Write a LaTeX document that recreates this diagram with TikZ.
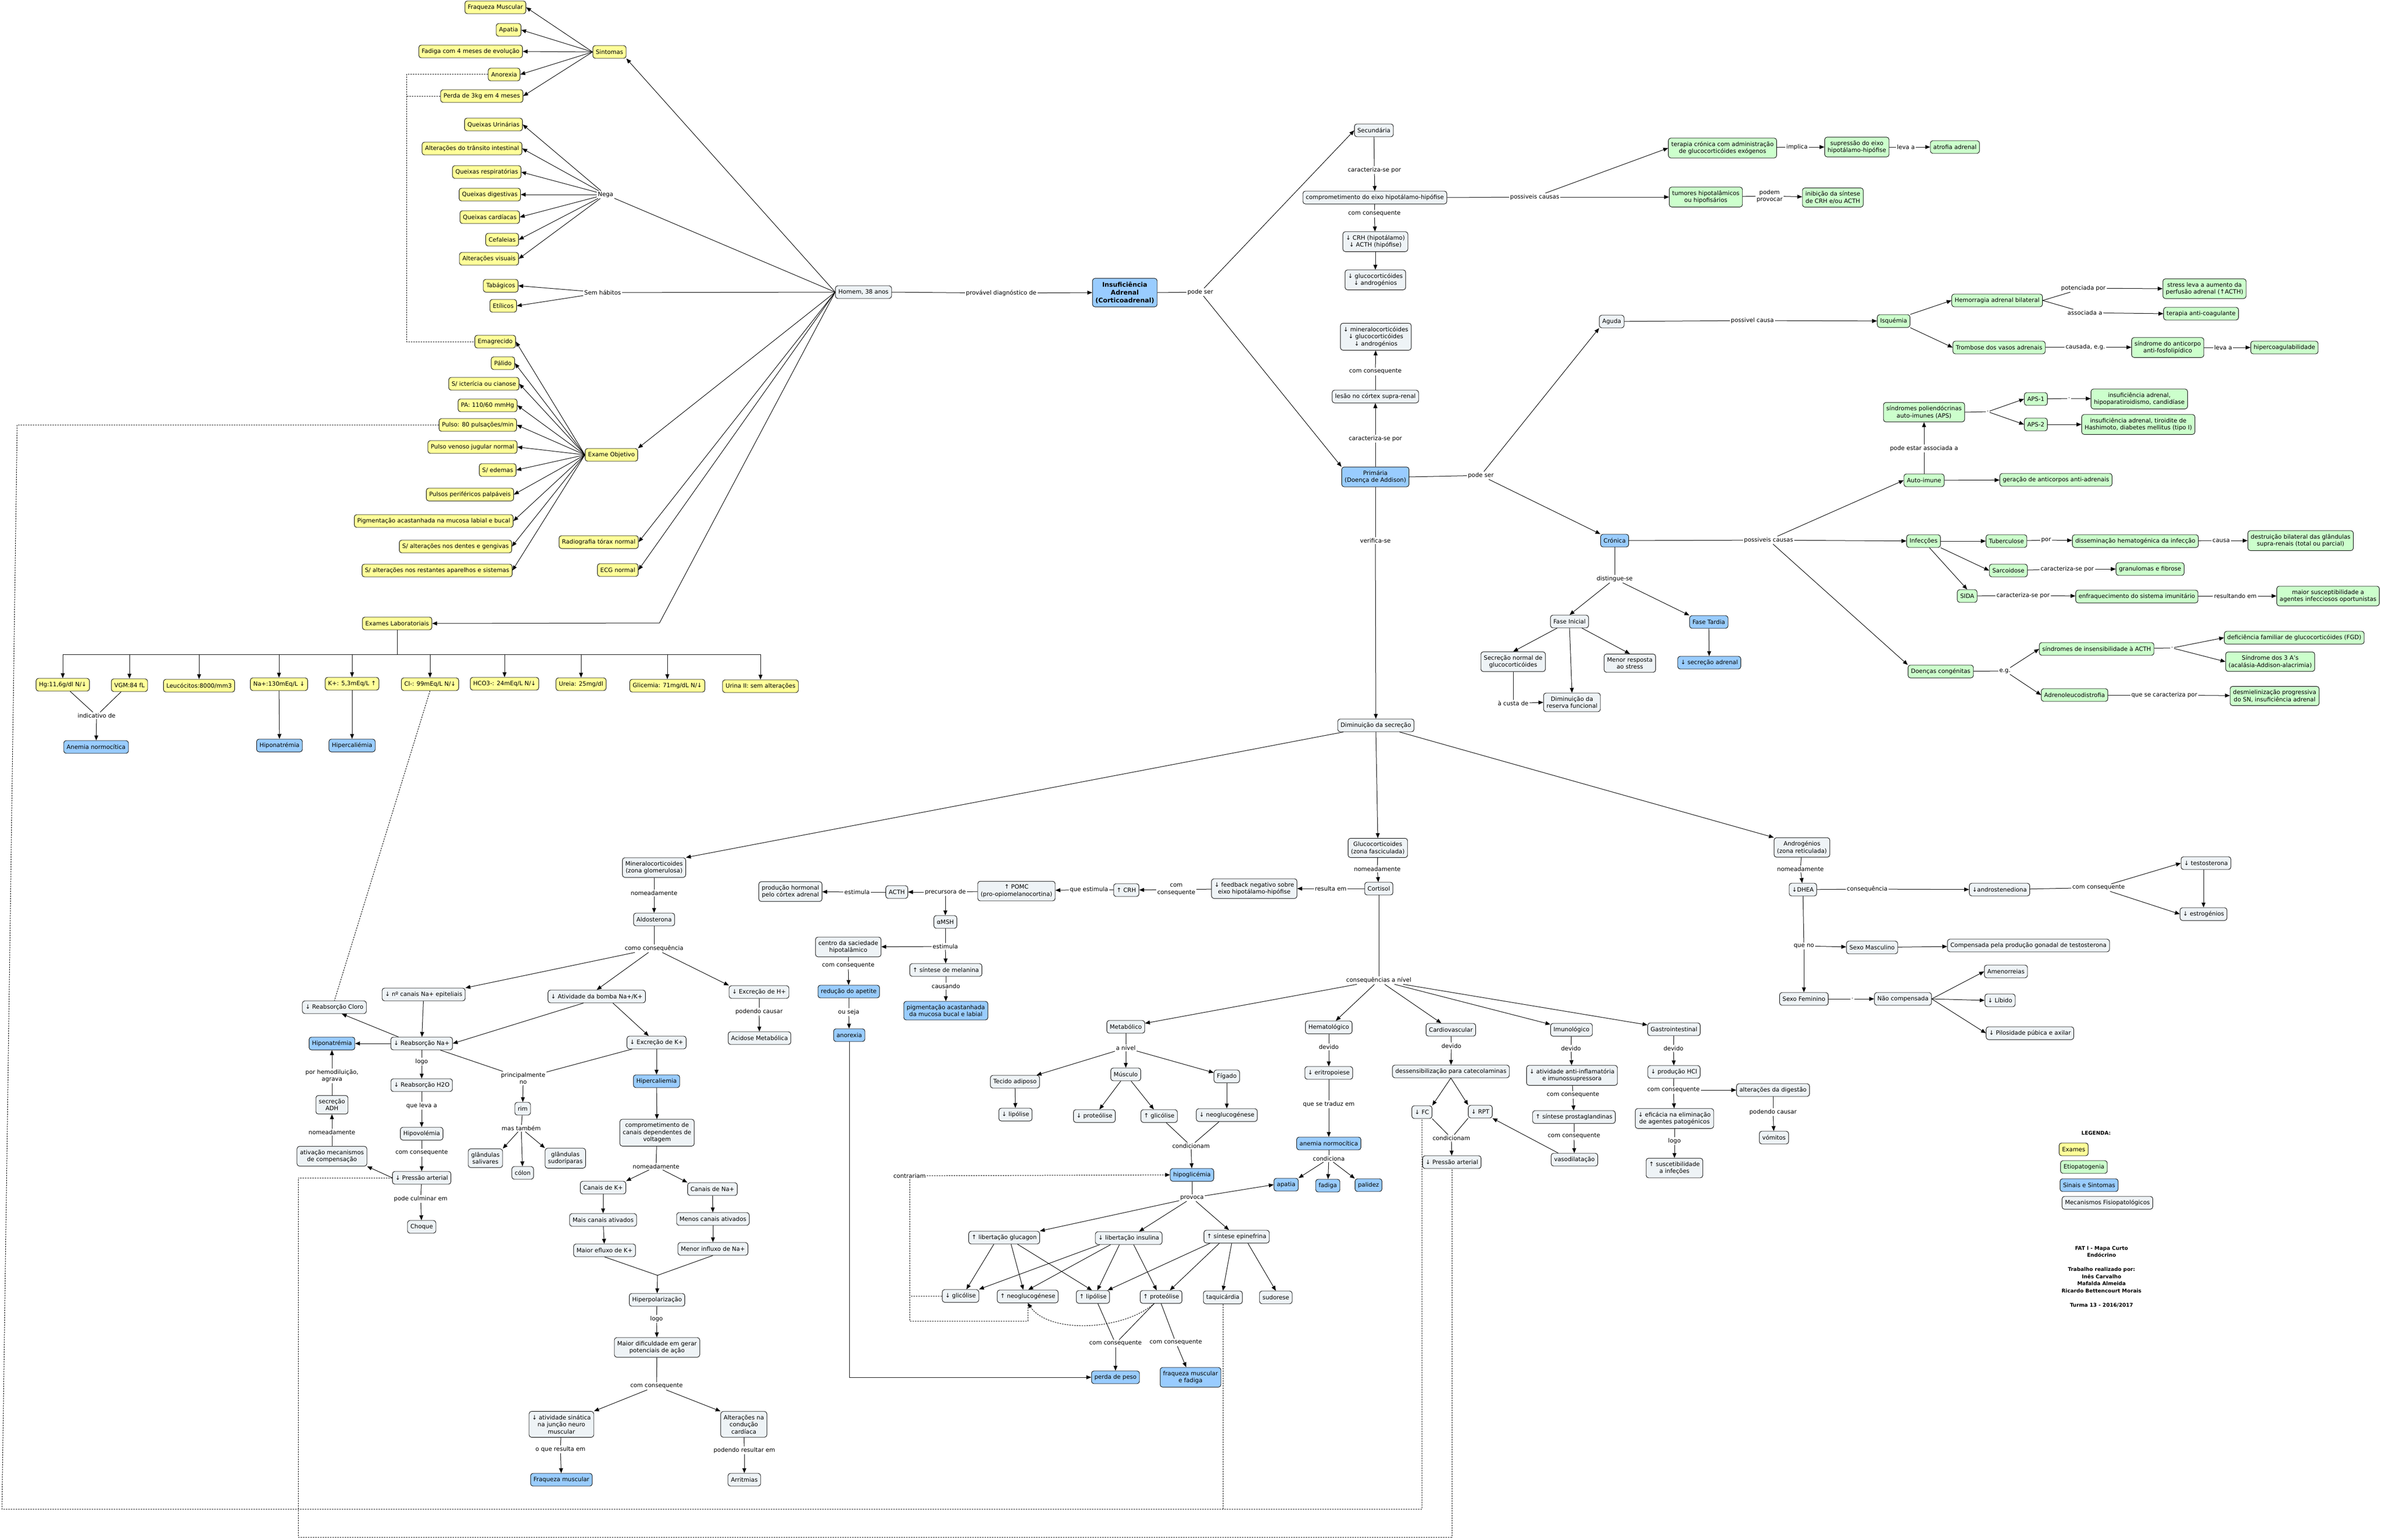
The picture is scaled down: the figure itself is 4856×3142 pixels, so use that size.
\documentclass[tikz,border=0pt]{standalone}
\usepackage{fontspec}
\setmainfont{DejaVu Sans}
\usetikzlibrary{arrows.meta}
\definecolor{cY}{HTML}{FFFF99}
\definecolor{cG}{HTML}{CCFFCC}
\definecolor{cB}{HTML}{99CCFF}
\definecolor{cM}{HTML}{EEF3F6}
\newcommand\myf{\fontsize{12}{14.5}\selectfont}
\newcommand\myb{\fontsize{10.5}{14.5}\selectfont\bfseries}
\newcommand\mys{\fontsize{9}{10}\selectfont}
\newcommand\myia{\fontsize{13}{16}\selectfont\bfseries}
\begin{document}
\begin{tikzpicture}[x=1pt,y=-1pt,
 bx/.style={draw=black, rounded corners=5pt, line width=0.9pt, inner xsep=6pt, inner ysep=7pt, minimum height=26pt, align=center, font=\myf},
 ex/.style={bx, fill=cY},
 gr/.style={bx, fill=cG},
 bl/.style={bx, fill=cB},
 mc/.style={bx, fill=cM},
 lb/.style={font=\myf, inner sep=2pt, align=center},
 ar/.style={-{Triangle[length=10pt,width=8pt]}, line width=1pt},
 ln/.style={line width=1pt},
 dsh/.style={dash pattern=on 3pt off 2pt, line width=1pt}]
\fill[white] (0,0) rectangle (4856,3142);
\useasboundingbox (0,0) rectangle (4856,3142);

% ---------- left: symptoms ----------
\node[ex,anchor=east] (fm) at (1073,15) {Fraqueza Muscular};
\node[ex,anchor=east] (apa) at (1063,61) {Apatia};
\node[ex,anchor=east] (fad) at (1066,105) {Fadiga com 4 meses de evolução};
\node[ex,anchor=east] (ano) at (1061,152) {Anorexia};
\node[ex,anchor=east] (per) at (1067,196) {Perda de 3kg em 4 meses};
\node[ex] (sin) at (1243,106) {Sintomas};
\node[ex,anchor=east] (qu) at (1066,254) {Queixas Urinárias};
\node[ex,anchor=east] (atr2) at (1065,303) {Alterações do trânsito intestinal};
\node[ex,anchor=east] (qr) at (1063,351) {Queixas respiratórias};
\node[ex,anchor=east] (qd) at (1062,397) {Queixas digestivas};
\node[ex,anchor=east] (qc) at (1060,443) {Queixas cardíacas};
\node[ex,anchor=east] (cef) at (1058,489) {Cefaleias};
\node[ex,anchor=east] (av) at (1058,528) {Alterações visuais};
\node[lb] (lnega) at (1235,397) {Nega};
\node[ex,anchor=east] (tab) at (1057,583) {Tabágicos};
\node[ex,anchor=east] (eti) at (1054,624) {Etílicos};
\node[lb] (lsem) at (1229,597) {Sem hábitos};
\node[ex,anchor=east] (ema) at (1052,697) {Emagrecido};
\node[ex,anchor=east] (pal) at (1050,741) {Pálido};
\node[ex,anchor=east] (ict) at (1059,783) {S/ icterícia ou cianose};
\node[ex,anchor=east] (pa) at (1055,827) {PA: 110/60 mmHg};
\node[ex,anchor=east] (pul) at (1054,867) {Pulso: 80 pulsações/min};
\node[ex,anchor=east] (pvj) at (1055,912) {Pulso venoso jugular normal};
\node[ex,anchor=east] (ede) at (1053,959) {S/ edemas};
\node[ex,anchor=east] (ppp) at (1048,1009) {Pulsos periféricos palpáveis};
\node[ex,anchor=east] (pig) at (1047,1063) {Pigmentação acastanhada na mucosa labial e bucal};
\node[ex,anchor=east] (den) at (1044,1115) {S/ alterações nos dentes e gengivas};
\node[ex,anchor=east] (res) at (1045,1164) {S/ alterações nos restantes aparelhos e sistemas};
\node[ex] (eo) at (1247,928) {Exame Objetivo};
\node[ex] (rx) at (1221,1106) {Radiografia tórax normal};
\node[ex] (ecg) at (1260,1163) {ECG normal};
\node[ex] (el) at (810,1272) {Exames Laboratoriais};
\node[mc] (hom) at (1761,596) {Homem, 38 anos};
\node[lb] (lprov) at (2042,598) {provável diagnóstico de};
\node[bl,font=\myia] (ia) at (2294,597) {Insuficiência\\Adrenal\\(Corticoadrenal)};
\node[lb] (lpode) at (2448,596) {pode ser};

% ---------- lab ----------
\node[ex] (hg) at (128,1397) {Hg:11,6g/dl N/↓};
\node[ex] (vgm) at (264,1398) {VGM:84 fL};
\node[ex] (leu) at (406,1399) {Leucócitos:8000/mm3};
\node[ex] (na) at (569,1396) {Na+:130mEq/L ↓};
\node[ex] (kk) at (718,1395) {K+: 5,3mEq/L ↑};
\node[ex] (cl) at (877,1396) {Cl-: 99mEq/L N/↓};
\node[ex] (hco) at (1029,1395) {HCO3-: 24mEq/L N/↓};
\node[ex] (ure) at (1185,1396) {Ureia: 25mg/dl};
\node[ex] (glic) at (1361,1399) {Glicemia: 71mg/dL N/↓};
\node[ex] (uri) at (1551,1400) {Urina II: sem alterações};
\node[lb] (lind) at (197,1460) {indicativo de};
\node[bl] (anem) at (196,1524) {Anemia normocítica};
\node[bl] (hipn) at (570,1521) {Hiponatrémia};
\node[bl] (hipk) at (718,1521) {Hipercaliémia};

% ---------- secondary ----------
\node[mc] (sec) at (2802,266) {Secundária};
\node[lb] (lcar1) at (2803,347) {caracteriza-se por};
\node[mc] (comp) at (2804,403) {comprometimento do eixo hipotálamo-hipófise};
\node[lb] (lcc1) at (2803,436) {com consequente};
\node[mc] (crh) at (2805,493) {↓ CRH (hipotálamo)\\↓ ACTH (hipófise)};
\node[mc] (glua) at (2805,571) {↓ glucocorticóides\\↓ androgénios};
\node[lb] (lpc1) at (3130,402) {possiveis causas};
\node[gr] (ter) at (3513,302) {terapia crónica com administração\\de glucocorticóides exógenos};
\node[lb] (limp) at (3665,300) {implica};
\node[gr] (sup) at (3787,300) {supressão do eixo\\hipotálamo-hipófise};
\node[lb] (lleva1) at (3887,300) {leva a};
\node[gr] (atf) at (3987,300) {atrofia adrenal};
\node[gr] (tum) at (3479,402) {tumores hipotalâmicos\\ou hipofisários};
\node[lb] (lpodem) at (3609,400) {podem\\provocar};
\node[gr] (ini) at (3738,403) {inibição da síntese\\de CRH e/ou ACTH};

% ---------- primary ----------
\node[mc] (min3) at (2806,687) {↓ mineralocorticóides\\↓ glucocorticóides\\↓ androgénios};
\node[lb] (lcc2) at (2805,758) {com consequente};
\node[mc] (les) at (2805,809) {lesão no córtex supra-renal};
\node[lb] (lcar2) at (2805,895) {caracteriza-se por};
\node[bl] (pri) at (2805,973) {Primária\\(Doença de Addison)};
\node[lb] (lpode2) at (3020,970) {pode ser};
\node[mc] (agu) at (3287,656) {Aguda};
\node[lb] (lpc2) at (3574,654) {possivel causa};
\node[gr] (isq) at (3862,655) {Isquémia};
\node[gr] (hem) at (4073,613) {Hemorragia adrenal bilateral};
\node[lb] (lpot) at (4249,588) {potenciada por};
\node[gr] (str) at (4496,589) {stress leva a aumento da\\perfusão adrenal (↑ACTH)};
\node[lb] (lass) at (4252,638) {associada a};
\node[gr] (tac) at (4489,640) {terapia anti-coagulante};
\node[gr] (tro) at (4077,709) {Trombose dos vasos adrenais};
\node[lb] (lcaus) at (4253,708) {causada, e.g.};
\node[gr] (saf) at (4421,709) {síndrome do anticorpo\\anti-fosfolipídico};
\node[lb] (lleva2) at (4534,709) {leva a};
\node[gr] (hip) at (4659,709) {hipercoagulabilidade};

\node[gr] (aps) at (3924,841) {síndromes poliendócrinas\\auto-imunes (APS)};
\node[lb,font=\mys] (ld1) at (4054,840) {-};
\node[gr] (aps1) at (4152,814) {APS-1};
\node[gr] (aps2) at (4152,866) {APS-2};
\node[lb,font=\mys] (ld4) at (4220,813) {-};
\node[gr] (ins1) at (4363,814) {insuficiência adrenal,\\hipoparatiroidismo, candidíase};
\node[gr] (ins2) at (4361,866) {insuficiência adrenal, tiroidite de\\Hashimoto, diabetes mellitus (tipo I)};
\node[lb] (lpea) at (3924,915) {pode estar associada a};
\node[gr] (aut) at (3924,980) {Auto-imune};
\node[gr] (ger) at (4193,979) {geração de anticorpos anti-adrenais};

\node[bl] (cro) at (3293,1103) {Crónica};
\node[lb] (lpc3) at (3607,1102) {possiveis causas};
\node[gr] (inf) at (3923,1104) {Infecções};
\node[gr] (tub) at (4092,1104) {Tuberculose};
\node[lb] (lpor) at (4173,1102) {por};
\node[gr] (dis) at (4355,1104) {disseminação hematogénica da infecção};
\node[lb] (lcausa) at (4530,1103) {causa};
\node[gr] (des) at (4692,1103) {destruição bilateral das glândulas\\supra-renais (total ou parcial)};
\node[gr] (sar) at (4096,1164) {Sarcoidose};
\node[lb] (lcar3) at (4216,1161) {caracteriza-se por};
\node[gr] (gra) at (4385,1161) {granulomas e fibrose};
\node[gr] (sida) at (4012,1216) {SIDA};
\node[lb] (lcar4) at (4126,1215) {caracteriza-se por};
\node[gr] (enf) at (4358,1217) {enfraquecimento do sistema imunitário};
\node[lb] (lres) at (4559,1216) {resultando em};
\node[gr] (mai) at (4748,1216) {maior susceptibilidade a\\agentes infecciosos oportunistas};
\node[gr] (dc) at (3958,1370) {Doenças congénitas};
\node[lb] (leg) at (4089,1369) {e.g.};
\node[gr] (sia) at (4276,1324) {síndromes de insensibilidade à ACTH};
\node[lb,font=\mys] (ld2) at (4430,1322) {-};
\node[gr] (fgd) at (4679,1301) {deficiência familiar de glucocorticóides (FGD)};
\node[gr] (s3a) at (4630,1350) {Síndrome dos 3 A's\\(acalásia-Addison-alacrimia)};
\node[gr] (adr) at (4231,1418) {Adrenoleucodistrofia};
\node[lb] (lqsc) at (4414,1418) {que se caracteriza por};
\node[gr] (dsm) at (4639,1420) {desmielinização progressiva\\do SN, insuficiência adrenal};

\node[lb] (ldis) at (3293,1181) {distingue-se};
\node[mc] (fi) at (3201,1268) {Fase Inicial};
\node[bl] (ft) at (3485,1269) {Fase Tardia};
\node[mc] (snorm) at (3086,1350) {Secreção normal de\\glucocorticóides};
\node[mc] (mrs) at (3324,1353) {Menor resposta\\ao stress};
\node[bl] (dsa) at (3486,1352) {↓ secreção adrenal};
\node[lb] (lcusta) at (3086,1435) {à custa de};
\node[mc] (drf) at (3206,1433) {Diminuição da\\reserva funcional};

% ---------- secretion ----------
\node[lb] (lver) at (2805,1103) {verifica-se};
\node[mc] (dims) at (2806,1480) {Diminuição da secreção};
\node[mc] (glu) at (2810,1730) {Glucocorticoides\\(zona fasciculada)};
\node[lb] (lnom2) at (2809,1773) {nomeadamente};
\node[mc] (cor) at (2812,1813) {Cortisol};
\node[lb] (lresem) at (2714,1813) {resulta em};
\node[mc] (fb) at (2558,1813) {↓ feedback negativo sobre\\eixo hipotálamo-hipófise};
\node[lb] (lcc3) at (2399,1815) {com\\consequente};
\node[mc] (crh2) at (2297,1816) {↑ CRH};
\node[lb] (lqe) at (2221,1815) {que estimula};
\node[mc] (pomc) at (2073,1818) {↑ POMC\\(pro-opiomelanocortina)};
\node[lb] (lprec) at (1928,1820) {precursora de};
\node[mc] (acth) at (1829,1820) {ACTH};
\node[lb] (lest1) at (1748,1820) {estimula};
\node[mc] (prod) at (1612,1819) {produção hormonal\\pelo córtex adrenal};
\node[mc] (msh) at (1928,1881) {αMSH};
\node[lb] (lest2) at (1928,1931) {estimula};
\node[mc] (cent) at (1730,1932) {centro da saciedade\\hipotalâmico};
\node[lb] (lcc4) at (1730,1970) {com consequente};
\node[bl] (red) at (1731,2023) {redução do apetite};
\node[lb] (lous) at (1731,2065) {ou seja};
\node[bl] (anx) at (1732,2112) {anorexia};
\node[mc] (mel) at (1929,1979) {↑ síntese de melanina};
\node[lb] (lcaus2) at (1929,2012) {causando};
\node[bl] (pig2) at (1929,2062) {pigmentação acastanhada\\da mucosa bucal e labial};

% ---------- mineralocorticoids ----------
\node[mc] (mine) at (1334,1770) {Mineralocorticoides\\(zona glomerulosa)};
\node[lb] (lnom1) at (1334,1822) {nomeadamente};
\node[mc] (ald) at (1334,1876) {Aldosterona};
\node[lb] (lcomo) at (1334,1935) {como consequência};
\node[mc] (nca) at (864,2029) {↓ nº canais Na+ epiteliais};
\node[mc] (bom) at (1217,2033) {↓ Atividade da bomba Na+/K+};
\node[mc] (exh) at (1548,2024) {↓ Excreção de H+};
\node[lb] (lpod1) at (1548,2064) {podendo causar};
\node[mc] (aci) at (1549,2118) {Acidose Metabólica};
\node[mc] (exk) at (1339,2127) {↓ Excreção de K+};
\node[bl] (hk) at (1339,2206) {Hipercaliemia};
\node[mc] (ccv) at (1340,2311) {comprometimento de\\canais dependentes de\\voltagem};
\node[lb] (lnom3) at (1338,2380) {nomeadamente};
\node[mc] (ck) at (1230,2423) {Canais de K+};
\node[mc] (cna) at (1453,2426) {Canais de Na+};
\node[mc] (mca) at (1230,2489) {Mais canais ativados};
\node[mc] (mna) at (1454,2487) {Menos canais ativados};
\node[mc] (mek) at (1233,2551) {Maior efluxo de K+};
\node[mc] (mif) at (1454,2548) {Menor influxo de Na+};
\coordinate (jun) at (1341,2602);
\node[mc] (hpz) at (1340,2652) {Hiperpolarização};
\node[lb] (llogo1) at (1339,2691) {logo};
\node[mc] (mdg) at (1340,2749) {Maior dificuldade em gerar\\potenciais de ação};
\node[lb] (lcc5) at (1339,2828) {com consequente};
\node[mc] (asn) at (1145,2906) {↓ atividade sinática\\na junção neuro\\muscular};
\node[lb] (lqre) at (1143,2957) {o que resulta em};
\node[bl] (fmu) at (1145,3019) {Fraqueza muscular};
\node[mc] (acc) at (1517,2906) {Alterações na\\condução\\cardíaca};
\node[lb] (lpr) at (1518,2959) {podendo resultar em};
\node[mc] (arm) at (1518,3019) {Arritmias};

\node[mc] (rcl) at (682,2055) {↓ Reabsorção Cloro};
\node[bl] (hna) at (677,2129) {Hiponatrémia};
\node[mc] (rna) at (860,2129) {↓ Reabsorção Na+};
\node[lb] (llogo2) at (860,2166) {logo};
\node[mc] (rh2o) at (860,2214) {↓ Reabsorção H2O};
\node[lb] (lqla) at (860,2256) {que leva a};
\node[mc] (hvo) at (860,2313) {Hipovolémia};
\node[lb] (lcc6) at (860,2352) {com consequente};
\node[mc] (pa2) at (860,2403) {↓ Pressão arterial};
\node[lb] (lpce) at (858,2446) {pode culminar em};
\node[mc] (cho) at (860,2503) {Choque};
\node[mc] (atv) at (677,2359) {ativação mecanismos\\de compensação};
\node[lb] (lnom4) at (677,2310) {nomeadamente};
\node[mc] (adh) at (677,2254) {secreção\\ADH};
\node[lb] (lphd) at (677,2195) {por hemodiluição,\\agrava};
\node[lb] (lpno) at (1067,2200) {principalmente\\no};
\node[mc] (rim) at (1066,2262) {rim};
\node[lb] (lmt) at (1063,2302) {mas também};
\node[mc] (gsa) at (990,2363) {glândulas\\salivares};
\node[mc] (col) at (1066,2393) {cólon};
\node[mc] (gsu) at (1153,2363) {glândulas\\sudoríparas};

% ---------- cortisol consequences ----------
\node[lb] (lcons) at (2812,2000) {consequências a nível};
\node[mc] (met) at (2296,2095) {Metabólico};
\node[lb] (lan) at (2296,2138) {a nível};
\node[mc] (tad) at (2070,2207) {Tecido adiposo};
\node[mc] (lip1) at (2071,2274) {↓ lipólise};
\node[mc] (mus) at (2296,2192) {Músculo};
\node[mc] (pro1) at (2232,2277) {↓ proteólise};
\node[mc] (gli1) at (2364,2277) {↑ glicólise};
\node[mc] (fig) at (2502,2196) {Fígado};
\node[mc] (neo1) at (2502,2275) {↓ neoglucogénese};
\node[lb] (lcond1) at (2429,2338) {condicionam};
\node[bl] (hgl) at (2431,2397) {hipoglicémia};
\node[lb] (lcontr) at (1855,2399) {contrariam};
\node[lb] (lprv) at (2431,2444) {provoca};
\node[mc] (glc) at (2048,2525) {↑ libertação glucagon};
\node[mc] (ins) at (2302,2526) {↓ libertação insulina};
\node[mc] (epi) at (2522,2523) {↑ síntese epinefrina};
\node[mc] (gli2) at (1959,2644) {↓ glicólise};
\node[mc] (neo2) at (2096,2645) {↑ neoglucogénese};
\node[mc] (lip2) at (2229,2646) {↑ lipólise};
\node[mc] (pro2) at (2368,2646) {↑ proteólise};
\node[mc] (taq) at (2494,2647) {taquicárdia};
\node[mc] (sud) at (2602,2647) {sudorese};
\node[lb] (lcc7) at (2275,2741) {com consequente};
\node[bl] (pp) at (2275,2810) {perda de peso};
\node[lb] (lcc8) at (2398,2739) {com consequente};
\node[bl] (fmf) at (2428,2810) {fraqueza muscular\\e fadiga};

\node[mc] (hema) at (2710,2096) {Hematológico};
\node[lb] (ldev1) at (2710,2136) {devido};
\node[mc] (eri) at (2710,2189) {↓ eritropoiese};
\node[lb] (lqst) at (2710,2253) {que se traduz em};
\node[bl] (anm) at (2710,2333) {anemia normocítica};
\node[lb] (lcondc) at (2710,2364) {condiciona};
\node[bl] (apat) at (2623,2417) {apatia};
\node[bl] (fadg) at (2708,2419) {fadiga};
\node[bl] (pali) at (2791,2418) {palidez};
\node[mc] (car) at (2959,2101) {Cardiovascular};
\node[lb] (ldev2) at (2960,2134) {devido};
\node[mc] (dsc) at (2959,2186) {dessensibilização para catecolaminas};
\node[mc] (fc) at (2900,2269) {↓ FC};
\node[mc] (rpt) at (3019,2268) {↓ RPT};
\node[lb] (lcond2) at (2960,2322) {condicionam};
\node[mc] (pa3) at (2961,2371) {↓ Pressão arterial};
\node[mc] (imu) at (3205,2101) {Imunológico};
\node[lb] (ldev3) at (3204,2139) {devido};
\node[mc] (aai) at (3206,2194) {↓ atividade anti-inflamatória\\e imunossupressora};
\node[lb] (lcc9) at (3208,2234) {com consequente};
\node[mc] (spg) at (3210,2279) {↑ síntese prostaglandinas};
\node[lb] (lcc10) at (3210,2318) {com consequente};
\node[mc] (vas) at (3211,2366) {vasodilatação};
\node[mc] (gas) at (3414,2100) {Gastrointestinal};
\node[lb] (ldev4) at (3413,2139) {devido};
\node[mc] (hcl) at (3414,2187) {↓ produção HCl};
\node[lb] (lcc11) at (3413,2224) {com consequente};
\node[mc] (ald2) at (3616,2224) {alterações da digestão};
\node[lb] (lpcs) at (3616,2269) {podendo causar};
\node[mc] (vom) at (3618,2321) {vómitos};
\node[mc] (efi) at (3415,2282) {↓ eficácia na eliminação\\de agentes patogénicos};
\node[lb] (llogo3) at (3415,2328) {logo};
\node[mc] (sus) at (3415,2383) {↑ suscetibilidade\\a infeções};

% ---------- androgens ----------
\node[mc] (andg) at (3675,1729) {Androgénios\\(zona reticulada)};
\node[lb] (lnom5) at (3672,1773) {nomeadamente};
\node[mc] (dhea) at (3677,1815) {↓DHEA};
\node[lb] (lcsq) at (3808,1814) {consequência};
\node[mc] (andr) at (4078,1815) {↓androstenediona};
\node[lb] (lcc12) at (4280,1811) {com consequente};
\node[mc] (tes) at (4499,1761) {↓ testosterona};
\node[mc] (est) at (4494,1865) {↓ estrogénios};
\node[lb] (lqno) at (3679,1930) {que no};
\node[mc] (sm) at (3818,1933) {Sexo Masculino};
\node[mc] (cpg) at (4137,1929) {Compensada pela produção gonadal de testosterona};
\node[mc] (sf) at (3679,2038) {Sexo Feminino};
\node[lb,font=\mys] (ld3) at (3778,2038) {-};
\node[mc] (nc) at (3881,2038) {Não compensada};
\node[mc] (amn) at (4091,1982) {Amenorreias};
\node[mc] (lib) at (4079,2041) {↓ Líbido};
\node[mc] (pil) at (4140,2108) {↓ Pilosidade púbica e axilar};

% ---------- legend ----------
\node[font=\myb] (leg0) at (4275,2312) {LEGENDA:};
\node[ex,anchor=west] (lg1) at (4199,2345) {Exames};
\node[gr,anchor=west] (lg2) at (4202,2381) {Etiopatogenia};
\node[bl,anchor=west] (lg3) at (4201,2418) {Sinais e Sintomas};
\node[mc,anchor=west] (lg4) at (4205,2454) {Mecanismos Fisiopatológicos};
\node[font=\myb,align=center] (cred) at (4286,2605) {FAT I - Mapa Curto\\Endócrino\\[14.5pt]Trabalho realizado por:\\Inês Carvalho\\Mafalda Almeida\\Ricardo Bettencourt Morais\\[14.5pt]Turma 13 - 2016/2017};

% ================= connectors =================
\foreach \q in {fm,apa,fad,ano,per} \draw[ar] (sin.west) -- (\q.east);
\draw[ar] (hom.west) -- (sin.south east);
\draw[ln] (hom.west) -- (lnega);
\foreach \q in {qu,atr2,qr,qd,qc,cef,av} \draw[ar] (lnega) -- (\q.east);
\draw[ln] (hom.west) -- (lsem);
\foreach \q in {tab,eti} \draw[ar] (lsem) -- (\q.east);
\draw[ar] (hom.west) -- (eo.north east);
\foreach \q in {ema,pal,ict,pa,pul,pvj,ede,ppp,pig,den,res} \draw[ar] (eo.west) -- (\q.east);
\draw[ar] (hom.west) -- (rx.east);
\draw[ar] (hom.west) -- (ecg.east);
\coordinate (elc) at (1345,1271);
\draw[ar] (hom.west) -- (elc) -- (el.east);

% dashed links
\coordinate (bxx) at (829,0);
\draw[dsh] (ano.west) -- (ano.west -| bxx) -- (ema.west -| bxx) -- (ema.west);
\draw[dsh] (per.west) -- (per.west -| bxx);
\coordinate (pA) at (35,867);
\coordinate (pB) at (4,3079);
\draw[dsh] (pul.west) -- (pul.west -| pA) -- (pB) -- (fc.south |- pB) -- (fc.south);
\draw[dsh] (taq.south) -- (taq.south |- pB);
\coordinate (qA) at (608,3136);
\draw[dsh] (pa2.west) -- (pa2.west -| qA) -- (qA) -- (pa3.south |- qA) -- (pa3.south);
\draw[dsh] (cl.south) -- (rcl.north);

% lab tree
\coordinate (bar) at (810,1335);
\draw[ln] (el.south) -- (bar);
\draw[ln] (hg.north |- bar) -- (uri.north |- bar);
\foreach \q in {hg,vgm,leu,na,kk,cl,hco,ure,glic,uri} \draw[ar] (\q.north |- bar) -- (\q.north);
\draw[ln] ([xshift=15pt]hg.south) -- (lind);
\draw[ln] ([xshift=-17pt]vgm.south) -- (lind);
\draw[ar] (lind) -- (anem);
\draw[ar] (na) -- (hipn);
\draw[ar] (kk) -- (hipk);

% main diagnosis
\draw[ln] (hom.east) -- (lprov);
\draw[ar] (lprov) -- (ia.west);
\draw[ln] (ia.east) -- (lpode);
\draw[ar] (lpode) -- (sec.west);
\draw[ar] (lpode) -- (pri.north west);
\draw[ln] (sec) -- (lcar1); \draw[ar] (lcar1) -- (comp);
\draw[ln] (comp) -- (lcc1); \draw[ar] (lcc1) -- (crh);
\draw[ar] (crh) -- (glua);
\draw[ln] (comp.east) -- (lpc1);
\draw[ar] (lpc1) -- (ter.west);
\draw[ar] (lpc1) -- (tum.west);
\draw[ln] (ter) -- (limp); \draw[ar] (limp) -- (sup);
\draw[ln] (sup) -- (lleva1); \draw[ar] (lleva1) -- (atf);
\draw[ln] (tum) -- (lpodem); \draw[ar] (lpodem) -- (ini);

\draw[ln] (pri) -- (lcar2); \draw[ar] (lcar2) -- (les);
\draw[ln] (les) -- (lcc2); \draw[ar] (lcc2) -- (min3);
\draw[ln] (pri.east) -- (lpode2);
\draw[ar] (lpode2) -- (agu.south west);
\draw[ar] (lpode2) -- (cro.north west);
\draw[ln] (agu) -- (lpc2); \draw[ar] (lpc2) -- (isq);
\draw[ar] (isq.north east) -- (hem.west);
\draw[ar] (isq.south east) -- (tro.west);
\draw[ln] (hem.east) -- (lpot); \draw[ar] (lpot) -- (str.west);
\draw[ln] (hem.east) -- (lass); \draw[ar] (lass) -- (tac.west);
\draw[ln] (tro) -- (lcaus); \draw[ar] (lcaus) -- (saf);
\draw[ln] (saf) -- (lleva2); \draw[ar] (lleva2) -- (hip);

\draw[ln] (aut) -- (lpea); \draw[ar] (lpea) -- (aps);
\draw[ar] (aut) -- (ger);
\draw[ln] (aps.east) -- (ld1);
\draw[ar] (ld1) -- (aps1.west); \draw[ar] (ld1) -- (aps2.west);
\draw[ln] (aps1) -- (ld4); \draw[ar] (ld4) -- (ins1);
\draw[ar] (aps2) -- (ins2);
\draw[ln] (cro) -- (lpc3);
\draw[ar] (lpc3) -- (aut.west);
\draw[ar] (lpc3) -- (inf);
\draw[ar] (lpc3) -- (dc.north west);
\draw[ar] (inf) -- (tub);
\draw[ar] (inf.south east) -- (sar.west);
\draw[ar] ([xshift=12pt]inf.south) -- (sida.north);
\draw[ln] (tub) -- (lpor); \draw[ar] (lpor) -- (dis);
\draw[ln] (dis) -- (lcausa); \draw[ar] (lcausa) -- (des);
\draw[ln] (sar) -- (lcar3); \draw[ar] (lcar3) -- (gra);
\draw[ln] (sida) -- (lcar4); \draw[ar] (lcar4) -- (enf);
\draw[ln] (enf) -- (lres); \draw[ar] (lres) -- (mai);
\draw[ln] (dc) -- (leg);
\draw[ar] (leg) -- (sia.west);
\draw[ar] (leg) -- (adr.west);
\draw[ln] (sia) -- (ld2);
\draw[ar] (ld2) -- (fgd.west); \draw[ar] (ld2) -- (s3a.west);
\draw[ln] (adr) -- (lqsc); \draw[ar] (lqsc) -- (dsm);

\draw[ln] (cro) -- (ldis);
\draw[ar] (ldis) -- (fi.north);
\draw[ar] (ldis) -- (ft.north west);
\draw[ar] (fi) -- (snorm.north);
\draw[ar] (fi.south) -- (drf.north);
\draw[ar] (fi) -- (mrs.north);
\draw[ln] (snorm) -- (lcusta); \draw[ar] (lcusta) -- (drf.west);
\draw[ar] (ft) -- (dsa);

\draw[ln] (pri) -- (lver); \draw[ar] (lver) -- (dims);
\draw[ar] ([xshift=12pt]dims.south west) -- (mine.north east);
\draw[ar] (dims.south) -- (glu.north);
\draw[ar] ([xshift=-30pt]dims.south east) -- (andg.north west);

\draw[ln] (glu) -- (lnom2); \draw[ar] (lnom2) -- (cor);
\draw[ln] (cor) -- (lresem); \draw[ar] (lresem) -- (fb);
\draw[ln] (fb) -- (lcc3); \draw[ar] (lcc3) -- (crh2);
\draw[ln] (crh2) -- (lqe); \draw[ar] (lqe) -- (pomc);
\draw[ln] (pomc) -- (lprec);
\draw[ar] (lprec) -- (acth);
\draw[ar] (lprec) -- (msh);
\draw[ln] (acth) -- (lest1); \draw[ar] (lest1) -- (prod);
\draw[ln] (msh) -- (lest2);
\draw[ar] (lest2) -- (cent);
\draw[ar] (lest2) -- (mel);
\draw[ln] (cent) -- (lcc4); \draw[ar] (lcc4) -- (red);
\draw[ln] (red) -- (lous); \draw[ar] (lous) -- (anx);
\draw[ln] (mel) -- (lcaus2); \draw[ar] (lcaus2) -- (pig2);
\draw[ar] (anx.south) -- (anx.south |- pp.west) -- (pp.west);

\draw[ln] (mine) -- (lnom1); \draw[ar] (lnom1) -- (ald);
\draw[ln] (ald) -- (lcomo);
\draw[ar] (lcomo) -- (nca.north east);
\draw[ar] (lcomo) -- (bom.north);
\draw[ar] (lcomo) -- (exh.north west);
\draw[ar] (nca) -- (rna);
\draw[ar] ([xshift=-27pt]bom.south) -- (rna.east);
\draw[ar] ([xshift=33pt]bom.south) -- ([xshift=-16pt]exk.north);
\draw[ln] (exh) -- (lpod1); \draw[ar] (lpod1) -- (aci);
\draw[ar] (exk) -- (hk);
\draw[ar] (hk) -- (ccv);
\draw[ln] (ccv) -- (lnom3);
\draw[ar] (lnom3) -- (ck.north east);
\draw[ar] (lnom3) -- (cna.north west);
\draw[ar] (ck) -- (mca); \draw[ar] (mca) -- (mek);
\draw[ar] (cna) -- (mna); \draw[ar] (mna) -- (mif);
\draw[ln] (mek.south) -- (jun);
\draw[ln] (mif.south) -- (jun);
\draw[ar] (jun) -- (hpz);
\draw[ln] (hpz) -- (llogo1); \draw[ar] (llogo1) -- (mdg);
\draw[ln] (mdg) -- (lcc5);
\draw[ar] (lcc5) -- (asn.north east);
\draw[ar] (lcc5) -- (acc.north west);
\draw[ln] (asn) -- (lqre); \draw[ar] (lqre) -- (fmu);
\draw[ln] (acc) -- (lpr); \draw[ar] (lpr) -- (arm);

\draw[ar] ([xshift=16pt]rna.north west) -- ([xshift=15pt]rcl.south);
\draw[ar] (rna) -- (hna);
\draw[ln] (rna) -- (llogo2); \draw[ar] (llogo2) -- (rh2o);
\draw[ln] (rh2o) -- (lqla); \draw[ar] (lqla) -- (hvo);
\draw[ln] (hvo) -- (lcc6); \draw[ar] (lcc6) -- (pa2);
\draw[ln] (pa2) -- (lpce); \draw[ar] (lpce) -- (cho);
\draw[ar] (pa2.west) -- (atv.south east);
\draw[ln] (atv) -- (lnom4); \draw[ar] (lnom4) -- (adh);
\draw[ln] (adh) -- (lphd); \draw[ar] (lphd) -- (hna);
\draw[ln] ([xshift=38pt]rna.south) -- (lpno);
\draw[ln] ([xshift=-50pt]exk.south) -- (lpno);
\draw[ar] (lpno) -- (rim);
\draw[ln] (rim) -- (lmt);
\draw[ar] (lmt) -- (gsa.north east);
\draw[ar] (lmt) -- (col);
\draw[ar] (lmt) -- (gsu.north west);

\draw[ln] (cor) -- (lcons);
\foreach \q in {met,hema,car,imu,gas} \draw[ar] (lcons) -- (\q);
\draw[ln] (met) -- (lan);
\foreach \q in {tad,mus,fig} \draw[ar] (lan) -- (\q);
\draw[ar] (tad) -- (lip1);
\draw[ar] (mus) -- (pro1);
\draw[ar] (mus) -- (gli1);
\draw[ar] (fig) -- (neo1);
\draw[ln] (gli1) -- (lcond1);
\draw[ln] (neo1) -- (lcond1);
\draw[ar] (lcond1) -- (hgl);
\draw[ln] (hgl) -- (lprv);
\draw[ar] (lprv) -- (glc.north east);
\draw[ar] (lprv) -- (ins);
\draw[ar] (lprv) -- (epi);
\draw[ar] (lprv) -- (apat.west);
\draw[ar] ([xshift=-21pt]glc.south) -- ([xshift=12pt]gli2.north);
\draw[ar] ([xshift=14pt]glc.south) -- ([xshift=-9pt]neo2.north);
\draw[ar] ([xshift=27pt]glc.south) -- ([xshift=-2pt]lip2.north);
\draw[ar] ([xshift=-59pt]ins.south) -- (gli2.north east);
\draw[ar] ([xshift=-37pt]ins.south) -- ([xshift=1pt]neo2.north);
\draw[ar] ([xshift=-19pt]ins.south) -- ([xshift=9pt]lip2.north);
\draw[ar] ([xshift=10pt]ins.south) -- ([xshift=-9pt]pro2.north);
\draw[ar] ([xshift=-54pt]epi.south) -- ([xshift=30pt]lip2.north);
\draw[ar] ([xshift=-35pt]epi.south) -- ([xshift=18pt]pro2.north);
\draw[ar] ([xshift=-10pt]epi.south) -- (taq.north);
\draw[ar] ([xshift=23pt]epi.south) -- (sud.north);
\draw[ln] ([xshift=10pt]lip2.south) -- (lcc7);
\draw[ln] ([xshift=-14pt]pro2.south) -- (lcc7);
\draw[ar] (lcc7) -- (pp);
\draw[ln] (pro2.south) -- (lcc8);
\draw[ar] (lcc8) -- (fmf);
\coordinate (cA) at (1857,2695);
\draw[dsh] (lcontr) -- (lcontr |- cA) -- (neo2.south |- cA) -- (neo2.south);
\draw[dsh] (gli2.west) -- (gli2.west -| cA);
\draw[dsh,ar] (lcontr) -- (hgl.west);
\draw[dsh,ar] ([xshift=-14pt]pro2.south) .. controls (2290,2715) and (2140,2722) .. (neo2.south);

\draw[ln] (hema) -- (ldev1); \draw[ar] (ldev1) -- (eri);
\draw[ln] (eri) -- (lqst); \draw[ar] (lqst) -- (anm);
\draw[ln] (anm) -- (lcondc);
\draw[ar] (lcondc) -- (apat.north east);
\draw[ar] (lcondc) -- (fadg);
\draw[ar] (lcondc) -- (pali.north west);
\draw[ln] (car) -- (ldev2); \draw[ar] (ldev2) -- (dsc);
\draw[ar] (dsc.south) -- (fc.north east);
\draw[ar] (dsc.south) -- (rpt.north west);
\draw[ln] (fc.south east) -- (lcond2);
\draw[ln] (rpt.south west) -- (lcond2);
\draw[ar] (lcond2) -- (pa3);
\draw[ln] (imu) -- (ldev3); \draw[ar] (ldev3) -- (aai);
\draw[ln] (aai) -- (lcc9); \draw[ar] (lcc9) -- (spg);
\draw[ln] (spg) -- (lcc10); \draw[ar] (lcc10) -- (vas);
\draw[ar] ([xshift=15pt]vas.north west) -- (rpt.south east);
\draw[ln] (gas) -- (ldev4); \draw[ar] (ldev4) -- (hcl);
\draw[ln] (hcl) -- (lcc11);
\draw[ar] (lcc11) -- (efi);
\draw[ar] (lcc11) -- (ald2);
\draw[ln] (efi) -- (llogo3); \draw[ar] (llogo3) -- (sus);
\draw[ln] (ald2) -- (lpcs); \draw[ar] (lpcs) -- (vom);

\draw[ln] (andg) -- (lnom5); \draw[ar] (lnom5) -- (dhea);
\draw[ln] (dhea) -- (lcsq); \draw[ar] (lcsq) -- (andr);
\draw[ln] (andr) -- (lcc12);
\draw[ar] (lcc12) -- (tes.west);
\draw[ar] (lcc12) -- (est.west);
\draw[ar] (est.north |- tes.south) -- (est.north);
\draw[ln] (dhea) -- (lqno);
\draw[ar] (lqno) -- (sm);
\draw[ar] (lqno) -- (sf);
\draw[ar] (sm) -- (cpg);
\draw[ln] (sf) -- (ld3); \draw[ar] (ld3) -- (nc);
\draw[ar] (nc.east) -- (amn.west);
\draw[ar] (nc.east) -- (lib.west);
\draw[ar] (nc.east) -- (pil.west);
\end{tikzpicture}
\end{document}
